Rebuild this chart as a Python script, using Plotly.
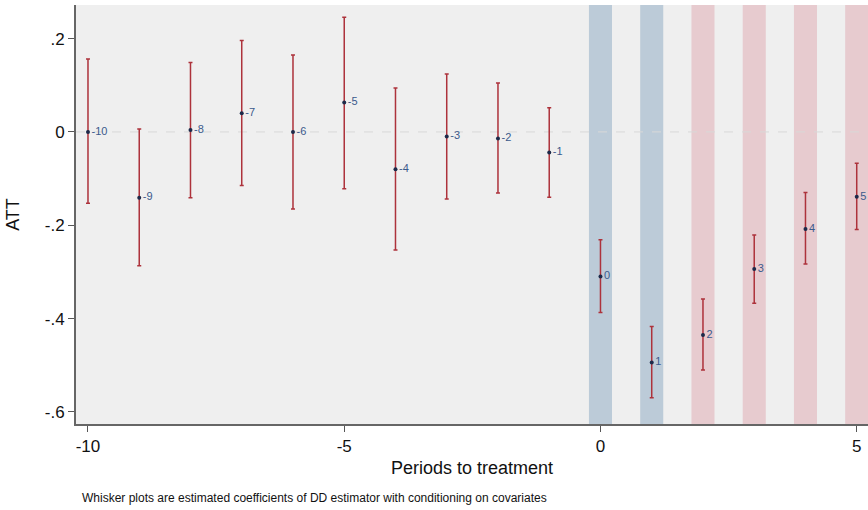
import plotly.graph_objects as go

periods = [-10, -9, -8, -7, -6, -5, -4, -3, -2, -1, 0, 1, 2, 3, 4, 5]
att = [0.000, -0.141, 0.004, 0.040, 0.000, 0.063, -0.080, -0.010, -0.014, -0.044,
       -0.310, -0.494, -0.435, -0.294, -0.208, -0.139]
upper = [0.156, 0.006, 0.149, 0.196, 0.165, 0.246, 0.094, 0.124, 0.105, 0.052,
         -0.231, -0.417, -0.358, -0.221, -0.130, -0.067]
lower = [-0.153, -0.287, -0.141, -0.115, -0.165, -0.122, -0.253, -0.144, -0.131, -0.140,
         -0.387, -0.570, -0.510, -0.367, -0.283, -0.209]
labels = [str(p) for p in periods]
blue_periods = [0, 1]
red_periods = [2, 3, 4, 5]
ytick_vals = [-0.6, -0.4, -0.2, 0, 0.2]
ytick_text = ["-.6", "-.4", "-.2", "0", ".2"]
xtick_vals = [-10, -5, 0, 5]
xtick_text = ["-10", "-5", "0", "5"]

FONT = "Liberation Sans, Arial, sans-serif"
band_hw = 0.225

fig = go.Figure()

err_plus = [u - a for u, a in zip(upper, att)]
err_minus = [a - l for a, l in zip(att, lower)]

fig.add_trace(go.Scatter(
    x=periods, y=att, mode="markers+text",
    text=labels, textposition="middle right",
    textfont=dict(family=FONT, size=11, color="#3b5a8c"),
    marker=dict(size=4, color="#1c2a4a"),
    error_y=dict(type="data", symmetric=False, array=err_plus, arrayminus=err_minus,
                 color="#ad323b", thickness=1.5, width=2),
    showlegend=False, hoverinfo="skip", cliponaxis=False,
))

shapes = []
for p in blue_periods:
    shapes.append(dict(type="rect", xref="x", yref="paper", x0=p - band_hw, x1=p + band_hw,
                       y0=0, y1=1, fillcolor="#bccbd8", line=dict(width=0), layer="below"))
for p in red_periods:
    shapes.append(dict(type="rect", xref="x", yref="paper", x0=p - band_hw, x1=p + band_hw,
                       y0=0, y1=1, fillcolor="#e7cbcf", line=dict(width=0), layer="below"))
shapes.append(dict(type="line", xref="paper", yref="y", x0=0, x1=1, y0=0, y1=0,
                   line=dict(color="#d8d8d8", width=1, dash="dash"), layer="below"))

fig.update_layout(
    width=868, height=510,
    margin=dict(l=76, r=0, t=5, b=86),
    paper_bgcolor="white", plot_bgcolor="#efefef",
    shapes=shapes,
    font=dict(family=FONT, color="#111111"),
    xaxis=dict(range=[-10.234, 5.22], tickvals=xtick_vals, ticktext=xtick_text,
               ticks="outside", ticklen=6,
               tickcolor="#555555", showgrid=False, zeroline=False,
               showline=True, linecolor="#666666", linewidth=2,
               tickfont=dict(family=FONT, size=17, color="#111111"),
               title=dict(text="Periods to treatment", font=dict(family=FONT, size=18),
                          standoff=6)),
    yaxis=dict(range=[-0.626, 0.272], tickvals=ytick_vals, ticktext=ytick_text,
               ticks="outside", ticklen=6, tickcolor="#555555",
               showgrid=False, zeroline=False,
               showline=True, linecolor="#666666", linewidth=2,
               tickfont=dict(family=FONT, size=17, color="#111111"),
               title=dict(text="ATT", font=dict(family=FONT, size=18), standoff=20)),
    annotations=[dict(text="Whisker plots are estimated coefficients of DD estimator with conditioning on covariates",
                      xref="paper", yref="paper", x=0.005, y=-0.176, xanchor="left", yanchor="middle",
                      showarrow=False, font=dict(family=FONT, size=12, color="#111111"))],
)

fig.write_html("out.html", config={"displayModeBar": False},
               post_script="document.body.style.margin='0';document.body.style.overflow='hidden';")
